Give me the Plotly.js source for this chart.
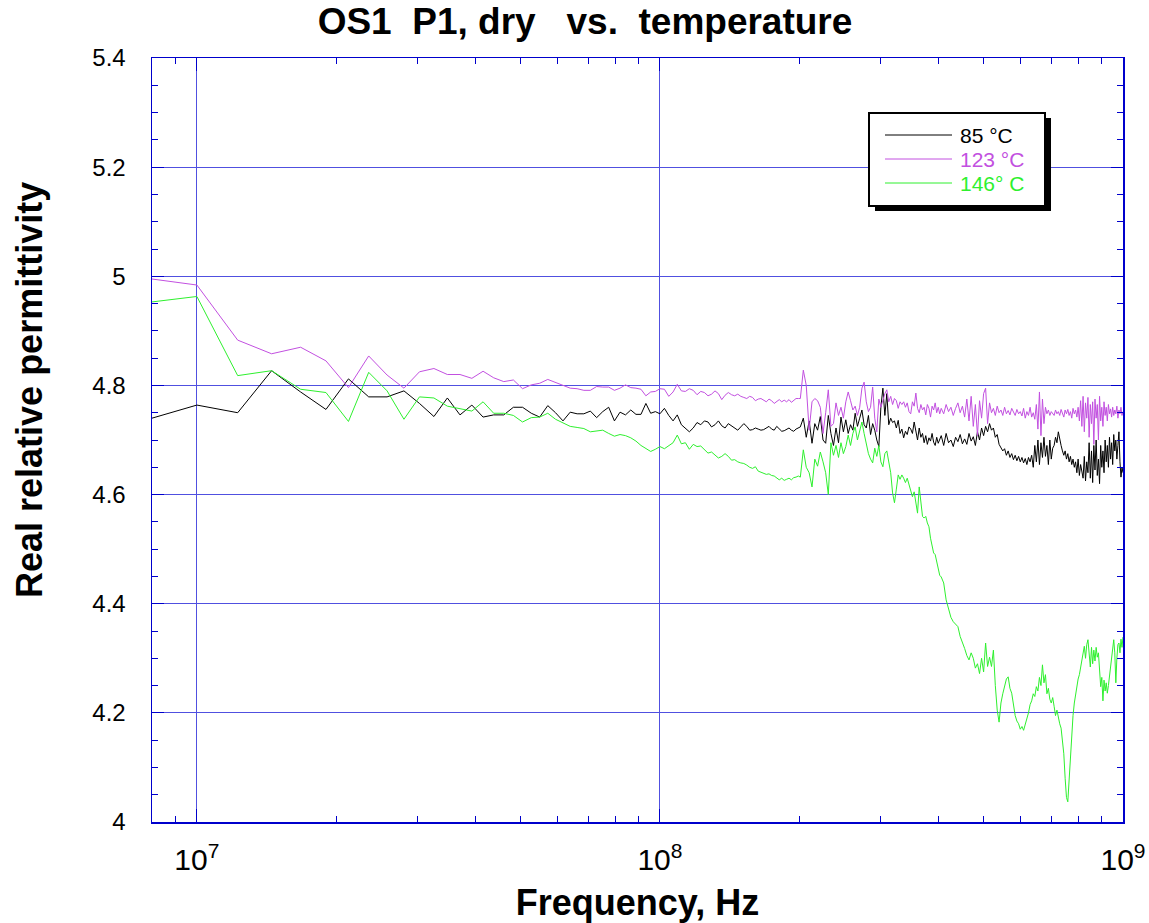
<!DOCTYPE html>
<html>
<head>
<meta charset="utf-8">
<script src="https://cdn.plot.ly/plotly-3.0.1.min.js"></script>
<style>
  html, body { margin: 0; padding: 0; background: #ffffff; }
  #chart { width: 1149px; height: 923px; }
</style>
</head>
<body>
<div id="chart"></div>
<script>
// Frequency grid, MHz
const freqMHz = [
  8, 10, 12.25, 14.5, 16.75, 19, 21.25, 23.5, 25.75, 28, 30.25, 32.5,
  34.75, 37, 39.25, 41.5, 43.75, 46, 48.25, 50.5, 52.75, 55, 57.25, 59.5, 61.75, 64, 66.25, 68.5, 70.75, 73,
  75.25, 77.5, 79.75, 82, 84.25, 86.5, 88.75, 91, 93.25, 95.5, 97.75, 100,
  102.25, 104.5, 106.75, 109, 111.25, 113.5, 115.75, 118, 120.25, 122.5, 124.75, 127, 129.25, 131.5, 133.75,
  136, 138.25, 140.5, 142.75, 145, 147.25, 149.5, 151.75, 154, 156.25, 158.5, 160.75, 163, 165.25, 167.5,
  169.75, 172, 174.25, 176.5, 178.75, 181, 183.25, 185.5, 187.75, 190, 192.25, 194.5, 196.75, 199,
  201, 204, 207, 210, 213, 216, 219, 222, 225, 228, 231, 234, 237, 240, 243, 246, 249, 252, 255, 258,
  261, 264, 267, 270, 273, 276, 279, 282, 285, 288, 291, 294, 297, 300, 303, 306, 309, 312, 315, 318,
  321, 324, 327, 330, 333, 336, 339, 342, 345, 348, 351, 354, 357, 360, 363, 366, 369, 372, 375, 378,
  381, 384, 387, 390, 393, 396, 399, 402,
  405, 410, 415, 420, 425, 430, 435, 440, 445, 450, 455, 460, 465, 470, 475, 480, 485, 490, 495, 500,
  505, 510, 515, 520, 525, 530, 535, 540, 545, 550, 555, 560, 565, 570, 575, 580, 585, 590, 595, 600,
  605, 610, 615, 620, 625, 630, 635, 640, 645, 650, 655, 660, 665, 670, 675, 680, 685, 690, 695, 700,
  705, 710, 715, 720, 725, 730, 735, 740, 745, 750, 755, 760, 765, 770, 775, 780, 785, 790, 795, 800,
  805, 810, 815, 820, 825, 830, 835, 840, 845, 850, 855, 860, 865, 870, 875, 880, 885, 890, 895, 900,
  905, 910, 915, 920, 925, 930, 935, 940, 945, 950, 955, 960, 965, 970, 975, 980, 985, 990, 995, 1000
];

// Real relative permittivity at 85 °C
const eps85 = [
  4.740, 4.764, 4.750, 4.827, 4.788, 4.756, 4.812, 4.779, 4.779, 4.790, 4.767, 4.743,
  4.777, 4.746, 4.764, 4.742, 4.746, 4.746, 4.760, 4.760, 4.749, 4.742, 4.763, 4.750, 4.735, 4.751, 4.748, 4.748, 4.753, 4.741,
  4.752, 4.760, 4.735, 4.751, 4.746, 4.755, 4.747, 4.747, 4.767, 4.749, 4.752, 4.748,
  4.758, 4.745, 4.735, 4.746, 4.728, 4.722, 4.715, 4.722, 4.732, 4.728, 4.735, 4.733, 4.724, 4.728, 4.735,
  4.726, 4.722, 4.730, 4.726, 4.721, 4.718, 4.724, 4.730, 4.725, 4.718, 4.719, 4.722, 4.720, 4.718, 4.719,
  4.722, 4.725, 4.720, 4.718, 4.725, 4.721, 4.716, 4.717, 4.720, 4.722, 4.718, 4.716, 4.720, 4.722,
  4.724, 4.740, 4.705, 4.735, 4.694, 4.730, 4.718, 4.743, 4.700, 4.694, 4.745, 4.712, 4.690, 4.722, 4.695, 4.742, 4.715, 4.737, 4.712, 4.728,
  4.718, 4.749, 4.725, 4.740, 4.755, 4.728, 4.722, 4.745, 4.710, 4.730, 4.718, 4.700, 4.688, 4.760, 4.795, 4.745, 4.785, 4.728, 4.740, 4.732,
  4.735, 4.722, 4.736, 4.712, 4.720, 4.704, 4.716, 4.710, 4.724, 4.720, 4.712, 4.733, 4.712, 4.700, 4.722, 4.705, 4.712, 4.695, 4.708, 4.692,
  4.704, 4.698, 4.712, 4.696, 4.690, 4.705, 4.694, 4.700,
  4.708, 4.690, 4.712, 4.695, 4.700, 4.688, 4.705, 4.697, 4.710, 4.693, 4.702, 4.692, 4.712, 4.698, 4.706, 4.690, 4.715, 4.700, 4.722, 4.708,
  4.725, 4.715, 4.730, 4.718, 4.722, 4.705, 4.710, 4.692, 4.685, 4.680, 4.684, 4.672, 4.680, 4.668, 4.675, 4.664, 4.672, 4.662, 4.670, 4.660,
  4.668, 4.658, 4.666, 4.655, 4.668, 4.660, 4.672, 4.650, 4.690, 4.660, 4.700, 4.655, 4.695, 4.668, 4.705, 4.670, 4.690, 4.655, 4.700, 4.665,
  4.685, 4.690, 4.705, 4.695, 4.715, 4.700, 4.690, 4.680, 4.672, 4.680, 4.665, 4.675, 4.660, 4.670, 4.655, 4.665, 4.650, 4.660, 4.640, 4.665,
  4.635, 4.655, 4.645, 4.630, 4.670, 4.625, 4.660, 4.640, 4.695, 4.630, 4.680, 4.622, 4.690, 4.645, 4.700, 4.635, 4.665, 4.620, 4.690, 4.650,
  4.680, 4.640, 4.700, 4.660, 4.690, 4.650, 4.705, 4.665, 4.695, 4.655, 4.710, 4.680, 4.700, 4.665, 4.690, 4.715, 4.660, 4.632, 4.650, 4.640
];

// Real relative permittivity at 123 °C
const eps123 = [
  4.995, 4.984, 4.883, 4.858, 4.870, 4.845, 4.796, 4.854, 4.819, 4.795, 4.825, 4.831,
  4.820, 4.820, 4.813, 4.826, 4.814, 4.807, 4.810, 4.794, 4.801, 4.804, 4.811, 4.805, 4.800, 4.795, 4.794, 4.791, 4.791, 4.798,
  4.797, 4.797, 4.791, 4.795, 4.801, 4.796, 4.795, 4.793, 4.781, 4.788, 4.789, 4.794,
  4.793, 4.780, 4.788, 4.802, 4.790, 4.789, 4.794, 4.791, 4.783, 4.789, 4.787, 4.781, 4.784, 4.790, 4.785,
  4.774, 4.782, 4.787, 4.783, 4.781, 4.784, 4.780, 4.778, 4.776, 4.780, 4.778, 4.772, 4.775, 4.776, 4.773,
  4.770, 4.775, 4.772, 4.767, 4.771, 4.774, 4.770, 4.773, 4.770, 4.774, 4.769, 4.772, 4.776, 4.776,
  4.776, 4.828, 4.800, 4.718, 4.770, 4.776, 4.772, 4.760, 4.712, 4.750, 4.792, 4.725, 4.730, 4.768, 4.745, 4.760, 4.740, 4.770, 4.788, 4.772,
  4.755, 4.762, 4.745, 4.760, 4.795, 4.806, 4.770, 4.752, 4.760, 4.797, 4.740, 4.715, 4.775, 4.760, 4.775, 4.785, 4.792, 4.770, 4.780, 4.765,
  4.776, 4.772, 4.758, 4.770, 4.765, 4.770, 4.760, 4.768, 4.752, 4.748, 4.770, 4.762, 4.786, 4.758, 4.750, 4.765, 4.755, 4.760, 4.746, 4.765,
  4.758, 4.742, 4.762, 4.755, 4.768, 4.750, 4.760, 4.748,
  4.758, 4.748, 4.765, 4.752, 4.760, 4.745, 4.758, 4.768, 4.750, 4.762, 4.742, 4.775, 4.735, 4.780, 4.725, 4.765, 4.708, 4.772, 4.740, 4.785,
  4.795, 4.730, 4.768, 4.750, 4.758, 4.745, 4.762, 4.750, 4.755, 4.745, 4.760, 4.748, 4.754, 4.746, 4.758, 4.750, 4.745, 4.756, 4.748, 4.752,
  4.744, 4.758, 4.740, 4.752, 4.745, 4.760, 4.742, 4.750, 4.738, 4.765, 4.720, 4.788, 4.708, 4.775, 4.730, 4.760, 4.748, 4.755, 4.745, 4.752,
  4.748, 4.745, 4.755, 4.748, 4.752, 4.745, 4.756, 4.750, 4.742, 4.755, 4.748, 4.756, 4.745, 4.752, 4.740, 4.758, 4.748, 4.755, 4.742, 4.760,
  4.735, 4.772, 4.725, 4.780, 4.715, 4.768, 4.740, 4.778, 4.705, 4.765, 4.730, 4.770, 4.692, 4.775, 4.740, 4.765, 4.700, 4.780, 4.735, 4.760,
  4.725, 4.770, 4.745, 4.760, 4.735, 4.765, 4.748, 4.757, 4.742, 4.760, 4.745, 4.755, 4.748, 4.762, 4.740, 4.755, 4.748, 4.760, 4.745, 4.752
];

// Real relative permittivity at 146 °C
const eps146 = [
  4.953, 4.963, 4.818, 4.827, 4.793, 4.787, 4.734, 4.824, 4.790, 4.738, 4.779, 4.777,
  4.762, 4.758, 4.753, 4.770, 4.749, 4.749, 4.745, 4.733, 4.741, 4.742, 4.749, 4.738, 4.732, 4.725, 4.723, 4.721, 4.715, 4.716,
  4.718, 4.712, 4.707, 4.710, 4.708, 4.704, 4.698, 4.690, 4.684, 4.679, 4.683, 4.688,
  4.684, 4.690, 4.695, 4.709, 4.693, 4.695, 4.683, 4.692, 4.688, 4.689, 4.682, 4.676, 4.678, 4.672, 4.667,
  4.670, 4.675, 4.670, 4.663, 4.664, 4.660, 4.658, 4.657, 4.654, 4.650, 4.648, 4.651, 4.643, 4.641, 4.640,
  4.637, 4.638, 4.635, 4.634, 4.630, 4.627, 4.630, 4.626, 4.628, 4.630, 4.627, 4.631, 4.632, 4.634,
  4.632, 4.682, 4.650, 4.640, 4.614, 4.665, 4.652, 4.678, 4.660, 4.640, 4.600, 4.695, 4.672, 4.690, 4.668, 4.695, 4.675, 4.688, 4.709, 4.690,
  4.712, 4.724, 4.700, 4.715, 4.733, 4.712, 4.690, 4.675, 4.665, 4.658, 4.685, 4.670, 4.690, 4.660, 4.651, 4.675, 4.680, 4.660, 4.640, 4.603,
  4.585, 4.610, 4.636, 4.628, 4.636, 4.630, 4.622, 4.630, 4.618, 4.609, 4.596, 4.605, 4.580, 4.566, 4.614, 4.590, 4.560, 4.557, 4.560, 4.548,
  4.541, 4.520, 4.508, 4.493, 4.490, 4.478, 4.466, 4.452,
  4.449, 4.438, 4.407, 4.390, 4.375, 4.367, 4.362, 4.358, 4.340, 4.330, 4.318, 4.305, 4.297, 4.310, 4.300, 4.282, 4.290, 4.272, 4.300, 4.275,
  4.328, 4.285, 4.302, 4.285, 4.315, 4.250, 4.205, 4.183, 4.218, 4.235, 4.250, 4.262, 4.266, 4.245, 4.236, 4.210, 4.195, 4.185, 4.180, 4.170,
  4.175, 4.168, 4.178, 4.190, 4.200, 4.215, 4.222, 4.235, 4.230, 4.248, 4.240, 4.265, 4.250, 4.288, 4.255, 4.270, 4.235, 4.245, 4.225, 4.218,
  4.228, 4.212, 4.195, 4.205, 4.188, 4.180, 4.172, 4.150, 4.125, 4.080, 4.045, 4.037, 4.080, 4.130, 4.165, 4.195, 4.218, 4.235, 4.250, 4.262,
  4.270, 4.284, 4.295, 4.310, 4.322, 4.300, 4.325, 4.334, 4.300, 4.284, 4.320, 4.290, 4.315, 4.295, 4.320, 4.302, 4.310, 4.275, 4.248, 4.265,
  4.222, 4.260, 4.240, 4.255, 4.236, 4.250, 4.265, 4.284, 4.300, 4.320, 4.334, 4.310, 4.255, 4.300, 4.325, 4.328, 4.310, 4.335, 4.320, 4.339
];

const seriesNames = ['85 °C', '123 °C', '146° C'];
const seriesColors = ['#000000', '#c250e0', '#2ef02e'];
const seriesValues = [eps85, eps123, eps146];

const freqHz = freqMHz.map(f => f * 1e6);

const FONT = 'Arial, "Liberation Sans", Helvetica, sans-serif';
const AXIS_BLUE = '#0000cc';
const GRID_BLUE = '#5050e0';

// plot area in pixels (for placing decorations)
const W = 1149, H = 923;
const M = { l: 152, r: 26, t: 58, b: 101 };
const PW = W - M.l - M.r, PH = H - M.t - M.b;
const px = x => (x - M.l) / PW;
const py = y => (H - M.b - y) / PH;

const traces = seriesValues.map((vals, i) => ({
  type: 'scatter',
  mode: 'lines',
  name: seriesNames[i],
  x: freqHz,
  y: vals,
  line: { color: seriesColors[i], width: 1 },
  showlegend: false,
  hoverinfo: 'x+y+name'
}));

// Legend drawn as decoration (box with drop shadow)
const box = { x0: 869, x1: 1045, y0: 113, y1: 206 };
const shapes = [
  { type: 'rect', xref: 'paper', yref: 'paper', layer: 'above',
    x0: px(box.x0 + 6), x1: px(box.x1 + 6), y0: py(box.y1 + 5), y1: py(box.y0 + 5),
    fillcolor: '#000000', line: { width: 0 } },
  { type: 'rect', xref: 'paper', yref: 'paper', layer: 'above',
    x0: px(box.x0), x1: px(box.x1), y0: py(box.y1), y1: py(box.y0),
    fillcolor: '#ffffff', line: { color: '#000000', width: 2 } }
];
const legendRows = [135, 159, 183];
const annotations = [];
seriesNames.forEach((n, i) => {
  shapes.push({ type: 'line', xref: 'paper', yref: 'paper', layer: 'above',
    x0: px(885), x1: px(952), y0: py(legendRows[i]), y1: py(legendRows[i]),
    line: { color: seriesColors[i], width: 1 } });
  annotations.push({ xref: 'paper', yref: 'paper', x: px(958), y: py(legendRows[i]),
    xanchor: 'left', yanchor: 'middle', showarrow: false, text: n,
    font: { family: FONT, size: 21, color: seriesColors[i] } });
});

// Y axis title placed as rotated text
annotations.push({ xref: 'paper', yref: 'paper', x: px(30), y: py(390),
  xanchor: 'center', yanchor: 'middle', showarrow: false, textangle: -90,
  text: '<b>Real relative permittivity</b>',
  font: { family: FONT, size: 36, color: '#000000' } });

const layout = {
  width: W, height: H,
  margin: M,
  paper_bgcolor: '#ffffff',
  plot_bgcolor: '#ffffff',
  font: { family: FONT, color: '#000000' },
  showlegend: false,
  title: {
    text: '<b>OS1\u00a0\u00a0P1, dry\u00a0\u00a0\u00a0vs.\u00a0\u00a0temperature</b>',
    font: { family: FONT, size: 37, color: '#000000' },
    x: 585 / W, xanchor: 'center', xref: 'container',
    y: 1 - 21 / H, yanchor: 'middle', yref: 'container'
  },
  xaxis: {
    type: 'log',
    range: [Math.log10(8e6), 9],
    dtick: 1,
    exponentformat: 'power',
    showexponent: 'all',
    ticks: 'inside', ticklen: 13, tickwidth: 1, tickcolor: AXIS_BLUE,
    showline: true, linecolor: AXIS_BLUE, linewidth: 1.5, mirror: 'ticks',
    showgrid: true, gridcolor: GRID_BLUE, gridwidth: 1,
    zeroline: false,
    minor: { ticks: 'inside', ticklen: 6, tickwidth: 1, tickcolor: AXIS_BLUE, dtick: 'D1', showgrid: false },
    tickfont: { family: FONT, size: 24, color: '#000000' },
    ticklabelstandoff: 12,
    title: { text: '<b>Frequency, Hz</b>', font: { family: FONT, size: 36, color: '#000000' }, standoff: 14 }
  },
  yaxis: {
    range: [4, 5.4],
    tick0: 4, dtick: 0.2,
    ticks: 'inside', ticklen: 12, tickwidth: 1, tickcolor: AXIS_BLUE,
    showline: true, linecolor: AXIS_BLUE, linewidth: 1.5, mirror: 'ticks',
    showgrid: true, gridcolor: GRID_BLUE, gridwidth: 1,
    zeroline: false,
    minor: { ticks: 'inside', ticklen: 6, tickwidth: 1, tickcolor: AXIS_BLUE, dtick: 0.05, showgrid: false },
    tickfont: { family: FONT, size: 24, color: '#000000' },
    ticklabelstandoff: 20
  },
  shapes: shapes,
  annotations: annotations
};

Plotly.newPlot('chart', traces, layout, { displayModeBar: false, staticPlot: true });
</script>
</body>
</html>
